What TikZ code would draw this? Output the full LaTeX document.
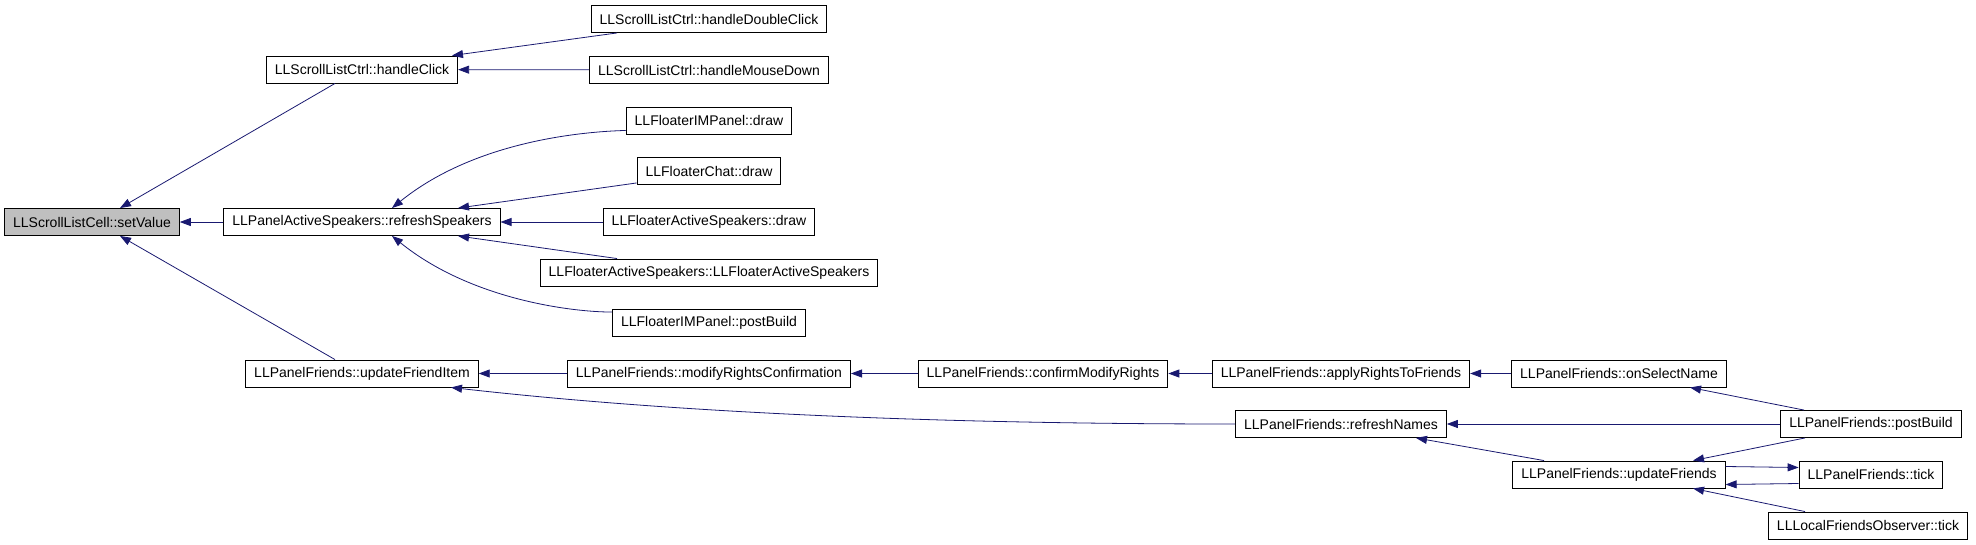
\documentclass[tikz,border=0pt]{standalone}
\usepackage{fontspec}
\setmainfont{Liberation Sans}
\usetikzlibrary{arrows.meta}
\definecolor{callblue}{RGB}{25,25,112}
\definecolor{focusgray}{RGB}{191,191,191}

\begin{document}
\begin{tikzpicture}[x=1pt,y=-1pt,
    fn/.style={draw,rectangle,line width=0.9pt,inner xsep=8.5pt,inner ysep=0pt,
               minimum height=27pt,font=\fontsize{14}{16}\selectfont},
    call/.style={draw=callblue,line width=0.8pt,
                 -{Triangle[length=11pt,width=8pt,fill=callblue]}}]
        \useasboundingbox (0,0) rectangle (1976,544);
        % Define the nodes for the callers
        \node[fn,fill=focusgray] (setValue)        at (92,222)    {LLScrollListCell::setValue};
        \node[fn]                (handleClick)     at (362,69.5)  {LLScrollListCtrl::handleClick};
        \node[fn]                (refreshSpeakers) at (362,222)   {LLPanelActiveSpeakers::refreshSpeakers};
        \node[fn]                (updateItem)      at (362,373.5) {LLPanelFriends::updateFriendItem};
        \node[fn]                (doubleClick)     at (709,19)    {LLScrollListCtrl::handleDoubleClick};
        \node[fn]                (mouseDown)       at (709,70)    {LLScrollListCtrl::handleMouseDown};
        \node[fn]                (imDraw)          at (709,120.5) {LLFloaterIMPanel::draw};
        \node[fn]                (chatDraw)        at (709,171)   {LLFloaterChat::draw};
        \node[fn]                (speakersDraw)    at (709,222)   {LLFloaterActiveSpeakers::draw};
        \node[fn]                (speakersCtor)    at (709,272.5) {LLFloaterActiveSpeakers::LLFloaterActiveSpeakers};
        \node[fn]                (imPostBuild)     at (709,323)   {LLFloaterIMPanel::postBuild};
        \node[fn]                (modifyConfirm)   at (709,373.5) {LLPanelFriends::modifyRightsConfirmation};
        \node[fn]                (confirmModify)   at (1043,373.5){LLPanelFriends::confirmModifyRights};
        \node[fn]                (applyRights)     at (1341,373.5){LLPanelFriends::applyRightsToFriends};
        \node[fn]                (refreshNames)    at (1341,424)  {LLPanelFriends::refreshNames};
        \node[fn]                (selectName)      at (1619,373.5){LLPanelFriends::onSelectName};
        \node[fn]                (updateFriends)   at (1619,474.5){LLPanelFriends::updateFriends};
        \node[fn]                (postBuild)       at (1871,424)  {LLPanelFriends::postBuild};
        \node[fn]                (tick)            at (1871,474.5){LLPanelFriends::tick};
        \node[fn]                (observerTick)    at (1868,525.5){LLLocalFriendsObserver::tick};
        % Connect the nodes, caller to callee
        \draw[call] ([xshift=-27pt]handleClick.south) -- ([xshift=28pt]setValue.north);
        \draw[call] (refreshSpeakers) -- (setValue);
        \draw[call] ([xshift=-27pt]updateItem.north) -- ([xshift=28pt]setValue.south);
        \draw[call] ([xshift=-92pt]doubleClick.south) -- ([xshift=90pt]handleClick.north);
        \draw[call] (mouseDown) -- (handleClick);
        \draw[call] ([yshift=4pt]imDraw.south west) .. controls (570,132) and (470,145) .. ([xshift=30pt]refreshSpeakers.north);
        \draw[call] ([yshift=2pt]chatDraw.south west) -- ([xshift=96pt]refreshSpeakers.north);
        \draw[call] (speakersDraw) -- (refreshSpeakers);
        \draw[call] ([xshift=-92pt]speakersCtor.north) -- ([xshift=96pt]refreshSpeakers.south);
        \draw[call] ([yshift=-3pt]imPostBuild.north west) .. controls (570,312) and (470,299) .. ([xshift=30pt]refreshSpeakers.south);
        \draw[call] (modifyConfirm) -- (updateItem);
        \draw[call] (refreshNames.west) .. controls (900,424) and (650,410) .. ([xshift=89pt]updateItem.south);
        \draw[call] (confirmModify) -- (modifyConfirm);
        \draw[call] (applyRights) -- (confirmModify);
        \draw[call] (selectName) -- (applyRights);
        \draw[call] ([xshift=-67pt]postBuild.north) -- ([xshift=71pt]selectName.south);
        \draw[call] (postBuild) -- (refreshNames);
        \draw[call] ([xshift=-75pt]updateFriends.north) -- ([xshift=75pt]refreshNames.south);
        \draw[call] ([xshift=-66pt]postBuild.south) -- ([xshift=74pt]updateFriends.north);
        \draw[call] ([yshift=8pt]updateFriends.east) -- ([yshift=7pt]tick.west);
        \draw[call] ([yshift=-9pt]tick.west) -- ([yshift=-10pt]updateFriends.east);
        \draw[call] ([xshift=-63pt]observerTick.north) -- ([xshift=74pt]updateFriends.south);
\end{tikzpicture}
\end{document}
